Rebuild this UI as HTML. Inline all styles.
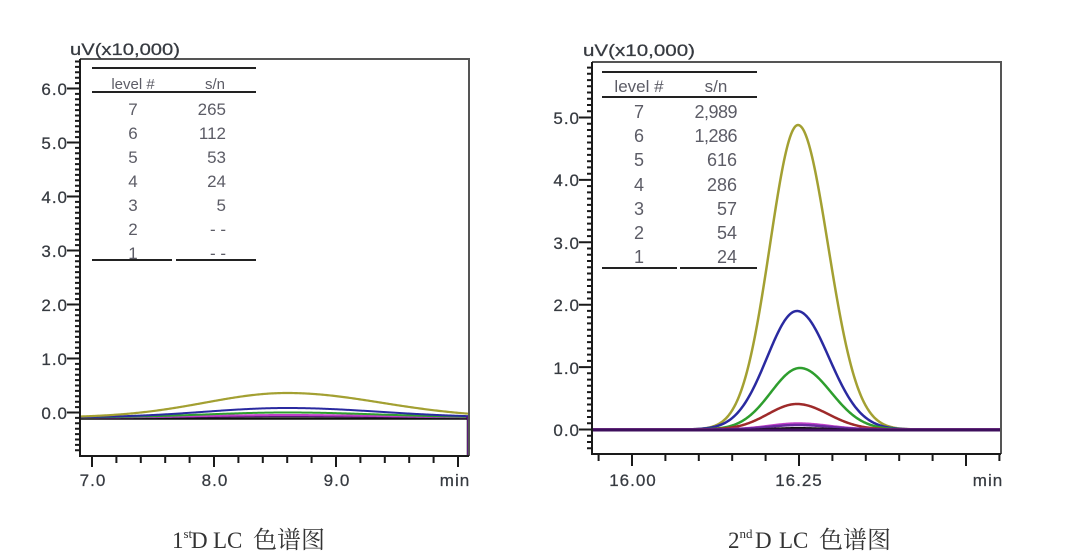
<!DOCTYPE html>
<html>
<head>
<meta charset="utf-8">
<style>
html,body{margin:0;padding:0;background:#fff;}
svg{display:block;}
.t{font-family:"Liberation Sans",sans-serif;fill:#363a40;stroke:#363a40;stroke-width:0.25;}
.lg{font-family:"Liberation Sans",sans-serif;fill:#5c5c66;}
.cap{font-family:"Liberation Serif","Noto Serif CJK SC",serif;fill:#333;}
</style>
</head>
<body>
<svg id="s" xmlns="http://www.w3.org/2000/svg" width="1080" height="555" viewBox="0 0 1080 555">
<rect width="1080" height="555" fill="#fff"/>
<g id="curves"></g>
<g id="ticks"></g>

<!-- LEFT CHART FRAME -->
<path d="M80 59 H469 V456" fill="none" stroke="#555" stroke-width="2"/>
<path d="M80 59 V456 H469" fill="none" stroke="#1a1a1a" stroke-width="2"/>
<!-- RIGHT CHART FRAME -->
<path d="M592 62 H1001 V454" fill="none" stroke="#555" stroke-width="2"/>
<path d="M592 62 V454 H1001" fill="none" stroke="#1a1a1a" stroke-width="2"/>

<!-- axis titles -->
<text class="t" x="70" y="55" font-size="17" textLength="110" lengthAdjust="spacingAndGlyphs">uV(x10,000)</text>
<text class="t" x="583" y="56" font-size="17" textLength="112" lengthAdjust="spacingAndGlyphs">uV(x10,000)</text>

<!-- left y labels -->
<g class="t" font-size="17" text-anchor="end" letter-spacing="1">
<text x="68" y="95">6.0</text>
<text x="68" y="149">5.0</text>
<text x="68" y="203">4.0</text>
<text x="68" y="257">3.0</text>
<text x="68" y="311">2.0</text>
<text x="68" y="365">1.0</text>
<text x="68" y="419">0.0</text>
</g>
<!-- right y labels -->
<g class="t" font-size="17" text-anchor="end" letter-spacing="1">
<text x="580" y="124">5.0</text>
<text x="580" y="186">4.0</text>
<text x="580" y="249">3.0</text>
<text x="580" y="311">2.0</text>
<text x="580" y="374">1.0</text>
<text x="580" y="436">0.0</text>
</g>
<!-- x labels -->
<g class="t" font-size="17" text-anchor="middle" letter-spacing="1">
<text x="93" y="486">7.0</text>
<text x="215" y="486">8.0</text>
<text x="337" y="486">9.0</text>
<text x="455" y="486">min</text>
<text x="633" y="486">16.00</text>
<text x="799" y="486">16.25</text>
<text x="988" y="486">min</text>
</g>

<!-- LEFT LEGEND -->
<g stroke="#222" stroke-width="2">
<line x1="92" y1="68" x2="256" y2="68"/>
<line x1="92" y1="92" x2="256" y2="92"/>
<line x1="92" y1="260" x2="172" y2="260"/>
<line x1="176" y1="260" x2="256" y2="260"/>
</g>
<text class="lg" x="133" y="89" font-size="15" text-anchor="middle" fill="#6a5a5e">level #</text>
<text class="lg" x="215" y="89" font-size="15" text-anchor="middle">s/n</text>
<g class="lg" font-size="17" text-anchor="middle">
<text x="133" y="115">7</text>
<text x="133" y="139">6</text>
<text x="133" y="163">5</text>
<text x="133" y="187">4</text>
<text x="133" y="211">3</text>
<text x="133" y="235">2</text>
<text x="133" y="259">1</text>
</g>
<g class="lg" font-size="17" text-anchor="end">
<text x="226" y="115">265</text>
<text x="226" y="139">112</text>
<text x="226" y="163">53</text>
<text x="226" y="187">24</text>
<text x="226" y="211">5</text>
<text x="226" y="235">- -</text>
<text x="226" y="259">- -</text>
</g>

<!-- RIGHT LEGEND -->
<g stroke="#222" stroke-width="2">
<line x1="602" y1="72" x2="757" y2="72"/>
<line x1="602" y1="97" x2="757" y2="97"/>
<line x1="602" y1="268" x2="677" y2="268"/>
<line x1="680" y1="268" x2="757" y2="268"/>
</g>
<text class="lg" x="639" y="92" font-size="17" text-anchor="middle" fill="#6a5a5e">level #</text>
<text class="lg" x="716" y="92" font-size="17" text-anchor="middle">s/n</text>
<g class="lg" font-size="18" text-anchor="middle">
<text x="639" y="118">7</text>
<text x="639" y="142">6</text>
<text x="639" y="166">5</text>
<text x="639" y="191">4</text>
<text x="639" y="215">3</text>
<text x="639" y="239">2</text>
<text x="639" y="263">1</text>
</g>
<g class="lg" font-size="18" text-anchor="end">
<text x="737" y="118" letter-spacing="-0.5">2,989</text>
<text x="737" y="142" letter-spacing="-0.5">1,286</text>
<text x="737" y="166">616</text>
<text x="737" y="191">286</text>
<text x="737" y="215">57</text>
<text x="737" y="239">54</text>
<text x="737" y="263">24</text>
</g>

<!-- captions -->
<text class="cap" y="548" font-size="23"><tspan x="172">1</tspan><tspan font-size="13" dy="-10">st</tspan><tspan x="191" dy="10">D</tspan><tspan x="213">LC</tspan><tspan x="253" font-size="24">色谱图</tspan></text>
<text class="cap" y="548" font-size="23"><tspan x="728">2</tspan><tspan font-size="13" dy="-10">nd</tspan><tspan x="755" dy="10">D</tspan><tspan x="779">LC</tspan><tspan x="819" font-size="24">色谱图</tspan></text>
</svg>

<script>
(function(){
var NS="http://www.w3.org/2000/svg";
var curves=document.getElementById("curves");
var ticks=document.getElementById("ticks");
function path(parent,d,stroke,w){
  var p=document.createElementNS(NS,"path");
  p.setAttribute("d",d);p.setAttribute("fill","none");
  p.setAttribute("stroke",stroke);p.setAttribute("stroke-width",w);
  p.setAttribute("stroke-linejoin","round");
  parent.appendChild(p);
}
var d="";
for(var i=-7;i<=65;i++){var y=412.5-i/10*54;var mj=(i%10===0);d+="M"+(mj?67:75)+" "+y.toFixed(1)+"H80";}
for(var i=-3;i<=58;i++){var y=429.5-i/10*62.4;var mj=(i%10===0);d+="M"+(mj?579:587)+" "+y.toFixed(1)+"H592";}
path(ticks,d,"#1a1a1a",2);
d="";
for(var k=0;k<=15;k++){var x=92+k*0.2*122;var mj=(k%5===0);d+="M"+x.toFixed(1)+" 456V"+(mj?467:463);}
for(var k=-1;k<=11;k++){var x=632+k*0.05*668;var mj=(k%5===0);d+="M"+x.toFixed(1)+" 454V"+(mj?466:461);}
path(ticks,d,"#1a1a1a",2);

function gauss(x0,x1,cx,sL,sR,amp,base){
  var s="";
  for(var x=x0;x<=x1;x+=1){
    var sg=x<cx?sL:sR;var u=(x-cx)/sg;
    var y=base-amp*Math.exp(-0.5*u*u);
    s+=(x===x0?"M":"L")+x+" "+y.toFixed(2);
  }
  return s;
}
// LEFT CHART
path(curves,"M81 418.5H468V456","#111",2.5);
path(curves,gauss(81,468,287,82,92,1.5,417.5),"#5a1a7a",2);
path(curves,gauss(81,468,287,82,92,2.5,417.5),"#c040c8",2);
path(curves,gauss(81,468,287,82,92,5,417.5),"#2e9e2e",2);
path(curves,gauss(81,468,287,82,92,9.5,417.5),"#2a2aa0",2);
path(curves,gauss(81,468,287,82,94,24.5,417.5),"#a3a032",2.2);
path(curves,"M466 417.5H468V456","#5a1a7a",2);
// RIGHT CHART
path(curves,gauss(593,1000,798,28,30,304.5,429.5),"#a3a032",2.5);
path(curves,gauss(593,1000,797,30,32,118.5,429.5),"#2a2aa0",2.5);
path(curves,gauss(593,1000,800,29,31,61.5,429.5),"#2e9e2e",2.5);
path(curves,gauss(593,1000,797,29,31,25.5,429.5),"#9e2a2a",2.5);
path(curves,gauss(593,1000,798,29,31,6,429.5),"#c040c8",2.5);
path(curves,gauss(593,1000,798,29,31,4.5,429.5),"#6a2aa0",2.5);
path(curves,gauss(593,1000,798,29,31,2,430),"#111",2);
path(curves,"M593 430H1000","#3d0f5c",3);
})();
</script>
</body>
</html>
